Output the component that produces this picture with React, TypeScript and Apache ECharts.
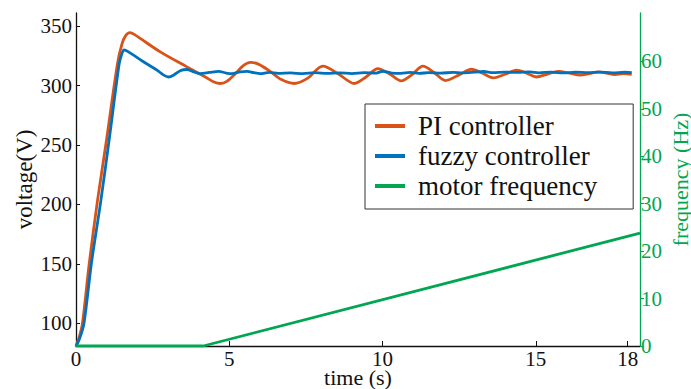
import React, { useEffect, useRef } from "react";
import * as echarts from "echarts";

// time (s), voltage (V)
const piTime = [0, 0.1, 0.21, 0.43, 0.7, 1.0, 1.35, 1.5, 1.62, 1.76, 1.9, 2.75, 3.62, 4.22, 4.5, 4.71, 4.92, 5.2, 5.45, 5.69, 5.95, 6.3, 6.7, 7.12, 7.55, 8.05, 8.55, 9.08, 9.45, 9.85, 10.22, 10.61, 10.95, 11.32, 11.68, 12.05, 12.5, 12.9, 13.25, 13.61, 14.0, 14.37, 14.7, 15.02, 15.38, 15.73, 16.1, 16.44, 16.75, 17.04, 17.3, 17.58, 17.85, 18.13];
const piVolt = [81, 88, 100, 150, 203, 255, 318, 335, 342, 344.5, 343, 328.3, 315.7, 307.2, 303, 301.7, 303.5, 310, 316.5, 319.4, 318, 312.5, 305, 301.7, 306, 316.3, 310, 301.7, 307, 314.3, 310, 303.9, 309, 316.3, 311, 304.2, 309, 313.7, 310.5, 306.4, 309.5, 312.9, 310.5, 307.2, 309.6, 312, 310.5, 308.7, 310, 311.5, 310.5, 309.3, 310, 309.5];

const fuzzyTime = [0, 0.1, 0.26, 0.5, 0.81, 1.1, 1.41, 1.5, 1.57, 1.7, 2.2, 2.64, 2.85, 3.02, 3.2, 3.4, 3.62, 3.85, 4.05, 4.35, 4.65, 4.9, 5.09, 5.35, 5.58, 5.8, 6.01, 6.3, 6.6, 7.0, 7.4, 7.8, 8.2, 8.6, 9.0, 9.4, 9.8, 10.0, 10.3, 10.6, 10.9, 11.2, 11.5, 11.9, 12.3, 12.6, 13.0, 13.3, 13.6, 14.0, 14.4, 14.8, 15.1, 15.5, 15.9, 16.3, 16.7, 17.1, 17.5, 17.9, 18.13];
const fuzzyVolt = [81, 86, 100, 150, 203, 258, 318.5, 327, 330, 328.5, 320, 313, 309, 307.2, 309, 312.5, 313.5, 311.5, 310, 311, 312, 310.5, 310, 311.5, 312, 310.8, 310, 311, 310.3, 310.6, 310, 310.8, 310.2, 310.7, 310.1, 310.8, 310.5, 312, 310.5, 310.2, 311, 310.3, 310.8, 310.5, 311, 310.6, 311.2, 311.8, 310.8, 311.3, 311, 311.5, 310.7, 311.3, 310.6, 311.2, 310.8, 311.3, 310.7, 311.2, 310.8];

// time (s), frequency (Hz)
const freqTime = [0, 4.15, 18.4];
const freqHz = [0, 0, 23.8];

const xTicks = [0, 5, 10, 15, 18];
const voltTicks = [100, 150, 200, 250, 300, 350];
const freqTicks = [0, 10, 20, 30, 40, 50, 60];

const seriesNames = ["PI controller", "fuzzy controller", "motor frequency"];

const zip = (a: number[], b: number[]) => a.map((v, i) => [v, b[i]]);

const FONT = "Liberation Serif";
const ORANGE = "#D95319";
const BLUE = "#0072BD";
const GREEN = "#00A651";

export default function App() {
  const ref = useRef<HTMLDivElement>(null);
  useEffect(() => {
    if (!ref.current) return;
    const chart = echarts.init(ref.current, undefined, { renderer: "svg" });
    chart.setOption({
      animation: false,
      backgroundColor: "#fff",
      textStyle: { fontFamily: FONT },
      grid: { left: 76, right: 51, top: 13, bottom: 43, containLabel: false, outerBoundsMode: "none" },
      legend: {
        data: seriesNames,
        orient: "vertical",
        left: 365,
        top: 104,
        icon: "rect",
        itemWidth: 30,
        itemHeight: 4,
        itemGap: 0,
        padding: [7, 36, 8, 10],
        borderColor: "#333",
        borderWidth: 1,
        backgroundColor: "#fff",
        textStyle: {
          fontFamily: FONT,
          fontSize: 27,
          lineHeight: 30,
          color: "#111",
          padding: [0, 0, 0, 8],
        },
      },
      xAxis: {
        type: "value",
        min: 0,
        max: 18.4,
        name: "time (s)",
        nameLocation: "middle",
        nameGap: 23,
        nameMoveOverlap: false,
        nameTextStyle: { fontFamily: FONT, fontSize: 22, lineHeight: 16, color: "#111" },
        axisLine: { onZero: false, lineStyle: { color: "#111", width: 1.3 } },
        axisTick: { show: true, inside: true, length: 5, customValues: xTicks, lineStyle: { color: "#111" } },
        axisLabel: { customValues: xTicks, fontFamily: FONT, fontSize: 21, lineHeight: 18, color: "#111", margin: 4 },
        splitLine: { show: false },
      },
      yAxis: [
        {
          type: "value",
          min: 81,
          max: 361,
          position: "left",
          name: "voltage(V)",
          nameLocation: "middle",
          nameGap: 40,
          nameRotate: 90,
          nameMoveOverlap: false,
          nameTextStyle: { fontFamily: FONT, fontSize: 23, color: "#111" },
          axisLine: { show: true, onZero: false, lineStyle: { color: "#111", width: 1.3 } },
          axisTick: { show: true, inside: true, length: 4, customValues: voltTicks, lineStyle: { color: "#111" } },
          axisLabel: { customValues: voltTicks, fontFamily: FONT, fontSize: 21, color: "#111", margin: 4 },
          splitLine: { show: false },
        },
        {
          type: "value",
          min: 0,
          max: 70.2,
          position: "right",
          name: "frequency (Hz)",
          nameLocation: "middle",
          nameGap: 29,
          nameRotate: 90,
          nameMoveOverlap: false,
          nameTextStyle: { fontFamily: FONT, fontSize: 22, color: GREEN },
          axisLine: { show: true, onZero: false, lineStyle: { color: GREEN, width: 1.3 } },
          axisTick: { show: true, inside: false, length: 4, customValues: freqTicks, lineStyle: { color: GREEN } },
          axisLabel: { customValues: freqTicks, fontFamily: FONT, fontSize: 21, color: GREEN, margin: 1 },
          splitLine: { show: false },
        },
      ],
      series: [
        {
          name: seriesNames[0],
          type: "line",
          yAxisIndex: 0,
          data: zip(piTime, piVolt),
          showSymbol: false,
          smooth: 0.3,
          lineStyle: { color: ORANGE, width: 2.8 },
          itemStyle: { color: ORANGE },
        },
        {
          name: seriesNames[1],
          type: "line",
          yAxisIndex: 0,
          data: zip(fuzzyTime, fuzzyVolt),
          showSymbol: false,
          smooth: 0.3,
          lineStyle: { color: BLUE, width: 2.8 },
          itemStyle: { color: BLUE },
        },
        {
          name: seriesNames[2],
          type: "line",
          yAxisIndex: 1,
          data: zip(freqTime, freqHz),
          showSymbol: false,
          lineStyle: { color: GREEN, width: 2.8 },
          itemStyle: { color: GREEN },
        },
      ],
    });
    return () => chart.dispose();
  }, []);
  return (
    <div
      ref={ref}
      style={{ position: "fixed", left: 0, top: 0, width: 691, height: 389, background: "#fff" }}
    />
  );
}
